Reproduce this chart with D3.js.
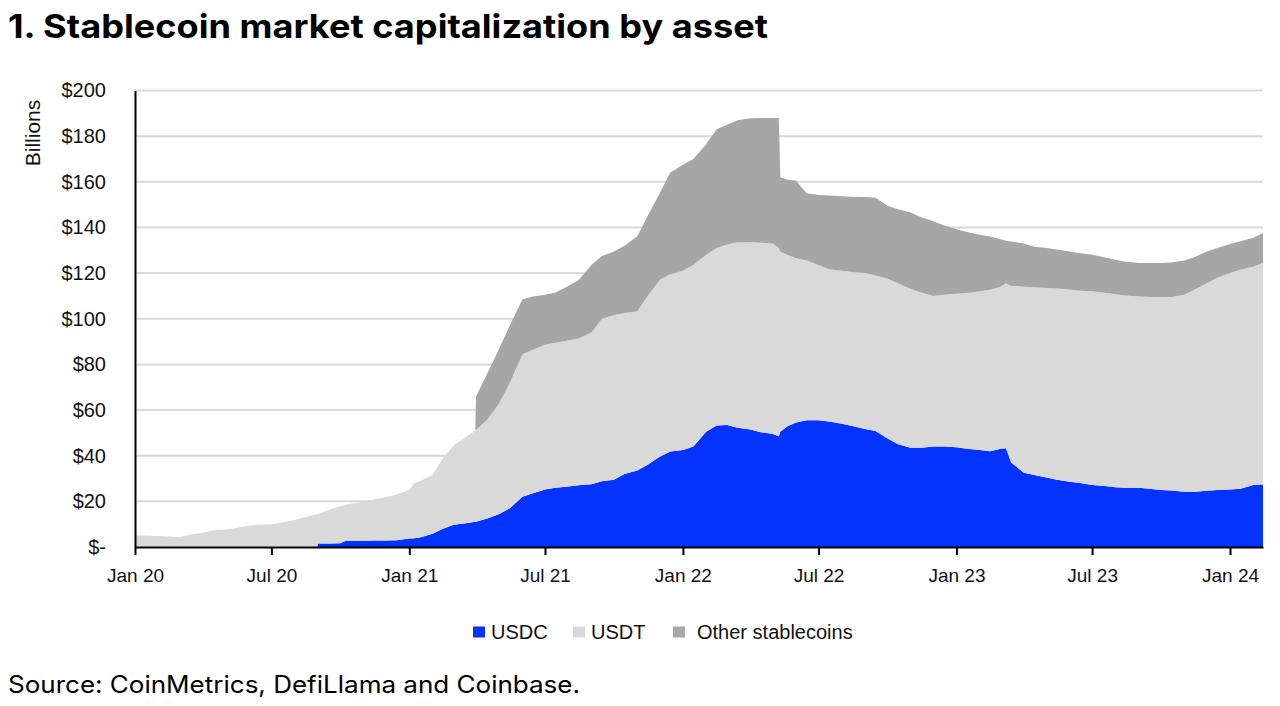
<!DOCTYPE html>
<html><head><meta charset="utf-8">
<script src="https://cdn.jsdelivr.net/npm/d3@7"></script>
<style>html,body{margin:0;padding:0;background:#fff;} svg{display:block;}</style>
</head><body>
<svg id="chart" width="1280" height="706"></svg>
<script>
// ---- data (US$ billions) ----
const dates = [
"2020-01-01","2020-02-01","2020-02-15","2020-03-01","2020-03-15","2020-04-01","2020-04-15","2020-05-01","2020-05-15","2020-06-01","2020-06-15","2020-07-01","2020-07-15","2020-08-01","2020-08-15","2020-08-31",
"2020-09-01","2020-09-15","2020-10-01","2020-10-08","2020-10-15","2020-11-01","2020-11-15","2020-12-01","2020-12-15",
"2021-01-01","2021-01-08","2021-01-15","2021-02-01","2021-02-15","2021-03-01","2021-03-15","2021-03-30","2021-03-31","2021-04-15","2021-05-01","2021-05-15","2021-06-01","2021-06-15","2021-07-01","2021-07-15","2021-08-01","2021-08-15","2021-09-01","2021-09-15","2021-10-01","2021-10-15","2021-11-01","2021-11-15","2021-12-01","2021-12-15",
"2022-01-01","2022-01-15","2022-02-01","2022-02-15","2022-03-01","2022-03-15","2022-04-01","2022-04-15","2022-05-01","2022-05-09","2022-05-11","2022-05-20","2022-06-01","2022-06-15","2022-07-01","2022-07-15","2022-08-01","2022-08-15","2022-09-01","2022-09-15","2022-10-01","2022-10-15","2022-11-01","2022-11-15","2022-12-01","2022-12-15",
"2023-01-01","2023-01-15","2023-02-01","2023-02-15","2023-03-01","2023-03-08","2023-03-15","2023-04-01","2023-04-15","2023-05-01","2023-05-15","2023-06-01","2023-06-15","2023-07-01","2023-07-15","2023-08-01","2023-08-15","2023-09-01","2023-09-15","2023-10-01","2023-10-15","2023-11-01","2023-11-15","2023-12-01","2023-12-15",
"2024-01-01","2024-01-15","2024-02-01","2024-02-14"];
const usdc = [
0,0,0,0,0,0,0,0,0,0,0,0,0,0,0,0,
1.5,1.5,1.6,2.7,2.7,2.7,2.8,2.9,3.0,
3.7,3.8,4.2,5.8,8.0,9.8,10.3,11.1,11.1,12.5,14.5,17,22,23.5,25.2,26,26.5,27,27.5,28.8,29.5,32,33.5,36,39.5,41.8,
42.5,44,50.5,53.2,53.5,52.3,51.5,50.3,49.5,48.5,50.5,52.8,54.5,55.5,55.5,55,54,53,51.7,50.8,47.5,45,43.5,43.5,44,44,
43.7,43,42.5,42,43,43.3,37,32.5,31.5,30.5,29.5,28.6,28,27.2,26.8,26.2,26,26,25.5,25,24.8,24.2,24.2,24.6,25,
25.2,25.5,27.2,27.4];
const usdt = [
5.1,4.8,4.6,4.3,5.5,6.2,7.3,7.7,8.3,9.4,9.7,9.9,10.7,11.8,13.0,14.4,
13.0,14.7,16.2,15.7,16.2,17.2,18.0,19.0,20.0,
21.3,24.2,24.6,25.7,31.0,34.7,37.2,39.9,40.2,43.2,48.5,54.8,62.5,62.9,63.4,63.5,64,64.3,66.5,71.2,72,70.5,69.7,74,77.5,77.7,
78.5,79.5,77.5,77.8,79,81.2,82,83,83.5,82.5,79,75.2,72,70,68,66.7,67,67.5,68.3,68.2,70,70.5,69.5,68,66,66.5,
67.3,68.3,69.5,70.7,71,72.2,77.3,81.5,82.3,83,83.7,84.2,84.3,84.8,84.7,84.5,84.2,83.7,84,84.5,84.7,86.3,88.6,90.9,93,
94.8,96,95.6,97];
const other = [
0,0,0,0,0,0,0,0,0,0,0,0,0,0,0,0,
0,0,0,0,0,0,0,0,0,
0,0,0,0,0,0,0,0,14.6,20.3,24,25.2,24,23.4,21.9,22,23.8,25.7,29.5,27.5,28,29.5,32.8,35,38,44.5,
46.5,46.5,48.5,52,52.5,53.5,54.3,54.7,55,57,32.5,33,34,29.5,30.7,32.3,32.7,33,33.3,34,32,32.5,33.5,33,32.7,30.5,
28.2,26.7,24.8,23.3,20.8,18.7,19.5,19,17.7,17.5,17.1,16.7,16.4,16,15.5,15.2,14.8,14.7,14.9,14.9,15.1,15,14.2,14,13,
12.8,12.5,12.7,13.2];

const seriesKeys = ["usdc","usdt","other"];
const seriesNames = ["USDC","USDT","Other stablecoins"];
const seriesColors = ["#0433ff","#d9d9d9","#a6a6a6"];

const yTickValues = [0,20,40,60,80,100,120,140,160,180,200];
const yTickLabels = ["$-","$20","$40","$60","$80","$100","$120","$140","$160","$180","$200"];
const xTickDates = ["2020-01-01","2020-07-01","2021-01-01","2021-07-01","2022-01-01","2022-07-01","2023-01-01","2023-07-01","2024-01-01"];
const xTickLabels = ["Jan 20","Jul 20","Jan 21","Jul 21","Jan 22","Jul 22","Jan 23","Jul 23","Jan 24"];

const titleText = "1. Stablecoin market capitalization by asset";
const yAxisTitle = "Billions";
const sourceText = "Source: CoinMetrics, DefiLlama and Coinbase.";

// ---- build ----
const parse = d3.timeParse("%Y-%m-%d");
const rows = dates.map((d, i) => ({date: parse(d), usdc: usdc[i], usdt: usdt[i], other: other[i]}));

const svg = d3.select("#chart");
const L = 135, R = 1263, B = 547, T = 90.5;

const x = d3.scaleTime().domain([parse("2020-01-01"), parse("2024-02-14")]).range([L, R]);
const y = d3.scaleLinear().domain([0, 200]).range([B, T]);

const axisFont = "'Liberation Sans', Arial, sans-serif";

// title
svg.append("text").attr("x", 8).attr("y", 37.5)
  .attr("font-family", "Inter, 'Noto Sans', sans-serif").attr("font-weight", 700)
  .attr("font-size", 33).attr("fill", "#000")
  .attr("textLength", 760).attr("lengthAdjust", "spacingAndGlyphs")
  .text(titleText);

// gridlines
svg.append("g").selectAll("line").data(yTickValues.filter(v => v > 0)).join("line")
  .attr("x1", L).attr("x2", R).attr("y1", d => y(d)).attr("y2", d => y(d))
  .attr("stroke", "#d9d9d9").attr("stroke-width", 2);

// stacked areas
const stack = d3.stack().keys(seriesKeys);
const stacked = stack(rows);
const area = d3.area()
  .x(d => x(d.data.date)).y0(d => y(d[0])).y1(d => y(d[1]))
  .curve(d3.curveLinear);
svg.append("g").selectAll("path").data(stacked).join("path")
  .attr("d", area).attr("fill", (d, i) => seriesColors[i]);

// y axis
const yAxis = d3.axisLeft(y).tickValues(yTickValues)
  .tickFormat((d, i) => yTickLabels[i]).tickSize(0).tickPadding(29);
const gy = svg.append("g").attr("transform", `translate(${L},0)`).call(yAxis);
gy.select(".domain").attr("stroke", "#000").attr("stroke-width", 2);
gy.selectAll("text").attr("font-family", axisFont).attr("font-size", 20).attr("fill", "#111");

// x axis
const xAxis = d3.axisBottom(x).tickValues(xTickDates.map(parse))
  .tickFormat((d, i) => xTickLabels[i]).tickSizeInner(8).tickSizeOuter(0).tickPadding(14);
const gx = svg.append("g").attr("transform", `translate(0,${B})`).call(xAxis);
gx.select(".domain").attr("stroke", "#000").attr("stroke-width", 2);
gx.selectAll(".tick line").attr("stroke", "#000").attr("stroke-width", 2);
gx.selectAll("text").attr("font-family", axisFont).attr("font-size", 19).attr("fill", "#111");

// y axis title
svg.append("text").attr("transform", "translate(40,133) rotate(-90)")
  .attr("text-anchor", "middle").attr("font-family", axisFont).attr("font-size", 21)
  .attr("fill", "#111").text(yAxisTitle);

// legend
const legendX = [473, 573, 673];
const lg = svg.append("g");
seriesNames.forEach((name, i) => {
  lg.append("rect").attr("x", legendX[i]).attr("y", 626.5).attr("width", 12).attr("height", 11)
    .attr("fill", seriesColors[i]);
  lg.append("text").attr("x", legendX[i] + 18 + (i === 2 ? 6 : 0)).attr("y", 638.5)
    .attr("font-family", axisFont).attr("font-size", 20).attr("fill", "#111").text(name);
});

// source
svg.append("text").attr("x", 8).attr("y", 693)
  .attr("font-family", "Inter, 'Noto Sans', sans-serif").attr("font-size", 24).attr("fill", "#000")
  .attr("textLength", 572).attr("lengthAdjust", "spacingAndGlyphs")
  .text(sourceText);
</script>
</body></html>
